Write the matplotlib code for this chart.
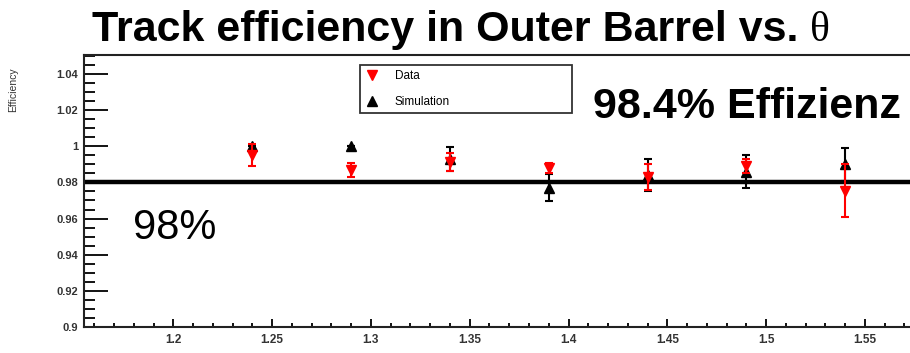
import matplotlib
matplotlib.use("Agg")
import matplotlib.pyplot as plt
from matplotlib.lines import Line2D
from matplotlib.ticker import MultipleLocator, FormatStrFormatter

plt.rcParams['font.family'] = ['Liberation Sans', 'DejaVu Sans']

# values
theta = [1.24, 1.29, 1.34, 1.39, 1.44, 1.49, 1.54]
eff_data = [0.995, 0.987, 0.9915, 0.988, 0.983, 0.989, 0.9755]
err_data = [0.006, 0.004, 0.005, 0.003, 0.007, 0.004, 0.0145]
eff_sim = [1.0, 1.0, 0.993, 0.977, 0.984, 0.986, 0.990]
err_sim = [0.0, 0.0, 0.0065, 0.0075, 0.009, 0.0092, 0.009]
ref_line = 0.98

fig = plt.figure(figsize=(9.1, 3.53), dpi=100)
ax = fig.add_axes([0.0923, 0.0737, 0.9077, 0.7705])

ax.axhline(ref_line, color='black', lw=3.2, zorder=1)

ax.errorbar(theta, eff_sim, yerr=err_sim, fmt='^', color='black', ms=7,
            elinewidth=1.5, capsize=3, capthick=1.5, zorder=3)
ax.errorbar(theta, eff_data, yerr=err_data, fmt='v', color='red', ms=7,
            elinewidth=1.5, capsize=3, capthick=1.5, zorder=4)

ax.set_xlim(1.1548, 1.5728)
ax.set_ylim(0.9, 1.0505)

ax.xaxis.set_major_locator(MultipleLocator(0.05))
ax.xaxis.set_minor_locator(MultipleLocator(0.01))
ax.yaxis.set_major_locator(MultipleLocator(0.02))
ax.yaxis.set_minor_locator(MultipleLocator(0.005))
ax.xaxis.set_major_formatter(FormatStrFormatter('%g'))
ax.yaxis.set_major_formatter(FormatStrFormatter('%g'))

ax.tick_params(axis='y', which='major', direction='in', length=17, width=1.3,
               labelsize=8, pad=4, labelcolor='#333333')
ax.tick_params(axis='y', which='minor', direction='in', length=8, width=1.3)
ax.tick_params(axis='x', which='major', direction='in', length=6, width=1.3,
               labelsize=8.5, pad=5, labelcolor='#333333')
ax.tick_params(axis='x', which='minor', direction='in', length=3, width=1.3)
for lab in ax.get_xticklabels() + ax.get_yticklabels():
    lab.set_fontweight('bold')
for sp in ['left', 'bottom', 'top']:
    ax.spines[sp].set_linewidth(1.5)
    ax.spines[sp].set_color('#222222')
ax.spines['right'].set_visible(False)

ax.set_ylabel('Efficiency', fontsize=7.5, color='#333333')
ax.yaxis.set_label_coords(-0.08, 0.871)

# legend shows only the markers, like the ROOT legend
handles = [Line2D([], [], ls='none', marker='v', color='red', ms=7),
           Line2D([], [], ls='none', marker='^', color='black', ms=7)]
leg = ax.legend(handles, ['Data', 'Simulation'], loc='upper left',
                bbox_to_anchor=(0.334, 0.79, 0.257, 0.173), mode='expand',
                borderaxespad=0, fancybox=False, fontsize=8.5, handlelength=1.2,
                handletextpad=1.3, borderpad=0.45, labelspacing=1.15,
                edgecolor='#333333', framealpha=1)
leg.get_frame().set_linewidth(1.3)

# annotations
t1 = fig.text(92 / 910, 1 - 41 / 353, 'Track efficiency in Outer Barrel vs. ',
              fontsize=31, fontweight='bold', va='baseline', ha='left')
fig.canvas.draw()
bb = t1.get_window_extent()
fig.text(bb.x1 / fig.bbox.width, 1 - 41 / 353, '\u03b8', fontsize=30,
         family=['Liberation Serif', 'DejaVu Serif'], va='baseline', ha='left')

fig.text(593 / 910, 1 - 118 / 353, '98.4% Effizienz', fontsize=31,
         fontweight='bold', va='baseline', ha='left')
fig.text(133 / 910, 1 - 239 / 353, '98%', fontsize=30, va='baseline', ha='left')

fig.savefig('out.png', dpi=100)
